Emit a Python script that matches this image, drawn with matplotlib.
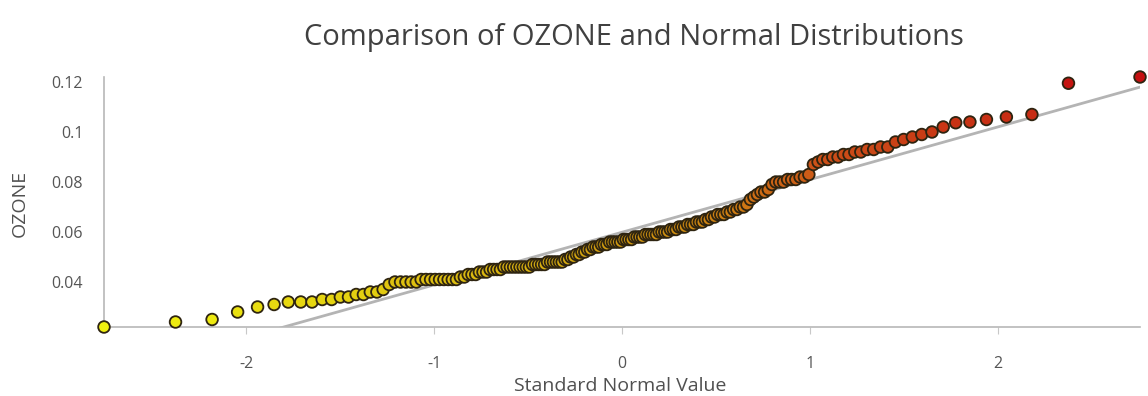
import numpy as np
import matplotlib.pyplot as plt
from matplotlib.colors import LinearSegmentedColormap
from statistics import NormalDist

plt.rcParams['font.family'] = ['Open Sans', 'DejaVu Sans']

# sorted OZONE values, given as value / how many stations share it
ozone_values = [0.022, 0.024, 0.025, 0.028, 0.030, 0.031, 0.032, 0.033,
                0.034, 0.035, 0.036, 0.037, 0.039, 0.040, 0.041, 0.042,
                0.043, 0.044, 0.045, 0.046, 0.047, 0.048, 0.049, 0.050,
                0.051, 0.052, 0.053, 0.054, 0.055, 0.056, 0.057, 0.058,
                0.059, 0.060, 0.061, 0.062, 0.063, 0.064, 0.065, 0.066,
                0.067, 0.068, 0.069, 0.070, 0.071, 0.073, 0.074, 0.075,
                0.076, 0.077, 0.079, 0.080, 0.081, 0.082, 0.083, 0.087,
                0.088, 0.089, 0.090, 0.091, 0.092, 0.093, 0.094, 0.096,
                0.097, 0.098, 0.099, 0.100, 0.102, 0.1037, 0.104, 0.105,
                0.106, 0.107, 0.1195, 0.122]
ozone_counts = [1, 1, 1, 1, 1, 1, 3, 2,
                2, 2, 2, 1, 1, 5, 9, 2,
                3, 3, 4, 9, 5, 6, 2, 2,
                2, 2, 2, 3, 3, 5, 4, 4,
                5, 4, 3, 3, 3, 3, 2, 2,
                3, 2, 2, 2, 1, 1, 1, 1,
                2, 1, 1, 3, 3, 2, 1, 1,
                1, 2, 2, 2, 2, 2, 2, 1,
                1, 1, 1, 1, 1, 1, 1, 1,
                1, 1, 1, 1]

# reference normal line
line_mean = 0.0599
line_sd = 0.02105

ozone = np.repeat(ozone_values, ozone_counts)
n = len(ozone)
nd = NormalDist()
z = np.array([nd.inv_cdf((i - 0.5) / n) for i in range(1, n + 1)])

cmap = LinearSegmentedColormap.from_list('ylrd', ['#f0f010', '#d09a10', '#cc5018', '#c41010'])

fig = plt.figure(figsize=(11.48, 3.96), dpi=100)
ax = fig.add_axes([104 / 1148, 69 / 396, 1036 / 1148, 250 / 396])

xs = np.array([z.min(), z.max()])
ax.plot(xs, line_mean + line_sd * xs, color='#b4b4b4', lw=2, zorder=1)
ax.scatter(z, ozone, c=ozone, cmap=cmap, s=70, edgecolors='#2e2410',
           linewidths=1.3, zorder=3, clip_on=False)

ax.set_xlim(z.min(), z.max())
ax.set_ylim(ozone.min(), ozone.max())
ax.set_xticks([-2, -1, 0, 1, 2])
ax.set_xticklabels(['-2', '-1', '0', '1', '2'])
ax.set_yticks([0.04, 0.06, 0.08, 0.1, 0.12])
ax.set_yticklabels(['0.04', '0.06', '0.08', '0.1', '0.12'])

for side in ['top', 'right']:
    ax.spines[side].set_visible(False)
for side in ['left', 'bottom']:
    ax.spines[side].set_color('#b8b8b8')
    ax.spines[side].set_linewidth(1.2)
ax.tick_params(axis='x', length=5, color='#c8c8c8', pad=16, labelsize=11.5, labelcolor='#555555')
ax.tick_params(axis='y', length=0, pad=15, labelsize=11.5, labelcolor='#555555')

fig.text(20 / 1148, 1 - 203 / 396, 'OZONE', rotation=90, ha='center', va='center',
         fontsize=14, color='#505050')
fig.text(620 / 1148, 1 - 395 / 396, 'Standard Normal Value', ha='center', va='bottom',
         fontsize=14, color='#505050')
fig.text(634 / 1148, 1 - 45 / 396, 'Comparison of OZONE and Normal Distributions',
         ha='center', va='baseline', fontsize=21, color='#404040')

fig.savefig('out.png', dpi=100)
